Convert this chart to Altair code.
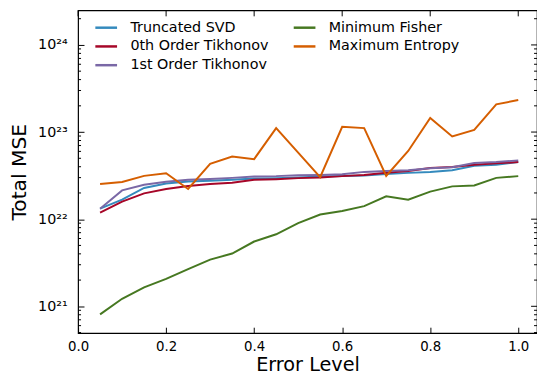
import altair as alt
import pandas as pd
import math

error_level = [0.05, 0.10, 0.15, 0.20, 0.25, 0.30, 0.35, 0.40, 0.45, 0.50,
               0.55, 0.60, 0.65, 0.70, 0.75, 0.80, 0.85, 0.90, 0.95, 1.00]

truncated_svd = [1.32e22, 1.68e22, 2.28e22, 2.57e22, 2.71e22, 2.76e22, 2.83e22, 2.93e22, 2.96e22, 3.01e22,
                 3.09e22, 3.14e22, 3.17e22, 3.31e22, 3.40e22, 3.49e22, 3.65e22, 4.11e22, 4.22e22, 4.52e22]
tikhonov_0 = [1.19e22, 1.59e22, 1.98e22, 2.22e22, 2.40e22, 2.53e22, 2.62e22, 2.83e22, 2.88e22, 2.96e22,
              3.01e22, 3.12e22, 3.22e22, 3.42e22, 3.58e22, 3.87e22, 3.97e22, 4.22e22, 4.38e22, 4.52e22]
tikhonov_1 = [1.32e22, 2.14e22, 2.48e22, 2.69e22, 2.83e22, 2.90e22, 2.98e22, 3.09e22, 3.12e22, 3.20e22,
              3.22e22, 3.28e22, 3.49e22, 3.58e22, 3.65e22, 3.84e22, 3.94e22, 4.41e22, 4.52e22, 4.73e22]
minimum_fisher = [8.08e20, 1.22e21, 1.65e21, 2.06e21, 2.67e21, 3.44e21, 4.03e21, 5.54e21, 6.71e21, 9.02e21,
                  1.13e22, 1.24e22, 1.41e22, 1.83e22, 1.67e22, 2.07e22, 2.38e22, 2.44e22, 2.98e22, 3.12e22]
maximum_entropy = [2.53e22, 2.67e22, 3.14e22, 3.37e22, 2.22e22, 4.33e22, 5.25e22, 4.89e22, 1.11e23, 5.82e22,
                   3.03e22, 1.15e23, 1.11e23, 3.14e22, 6.07e22, 1.45e23, 8.89e22, 1.06e23, 2.08e23, 2.33e23]

series_names = ["Truncated SVD", "0th Order Tikhonov", "1st Order Tikhonov",
                "Minimum Fisher", "Maximum Entropy"]
series_values = [truncated_svd, tikhonov_0, tikhonov_1, minimum_fisher, maximum_entropy]
series_colors = ["#348ABD", "#A60628", "#7A68A6", "#467821", "#D55E00"]

x_major = [0.0, 0.2, 0.4, 0.6, 0.8, 1.0]
y_major = [1e21, 1e22, 1e23, 1e24]
y_domain = [4.92e20, 2.49e24]
x_domain = [0.0, 1.0426]
y_minor = [m * 10.0 ** e for e in range(20, 25) for m in range(2, 10)
           if y_domain[0] < m * 10.0 ** e < y_domain[1]]

rows = []
for name, vals in zip(series_names, series_values):
    for x, v in zip(error_level, vals):
        rows.append({"x": x, "mse": v, "method": name})
df = pd.DataFrame(rows)

sup = {"0": "⁰", "1": "¹", "2": "²", "3": "³", "4": "⁴", "5": "⁵",
       "6": "⁶", "7": "⁷", "8": "⁸", "9": "⁹"}
expr = "''"
for v in y_major:
    e = str(round(math.log10(v)))
    expr = f"round(log(datum.value)/LN10) == {e} ? '10{''.join(sup[c] for c in e)}' : ({expr})"

FONT = "DejaVu Sans"
W, H = 465, 327
MAJ = 6
MIN = 3
xs = alt.Scale(domain=x_domain, nice=False, zero=False)
ys = alt.Scale(type="log", domain=y_domain, nice=False)

lines = alt.Chart(df).mark_line(strokeWidth=2).encode(
    x=alt.X("x:Q", scale=xs, axis=alt.Axis(
        values=x_major, format=".1f", title="Error Level", orient="bottom",
        offset=-MAJ, tickSize=MAJ, domain=False, grid=False, labelPadding=7,
        titlePadding=2, labelFontSize=13.5, titleFontSize=19.5, labelFont=FONT,
        titleFont=FONT, titleFontWeight="normal", tickColor="black", labelColor="black",
        titleColor="black", labelFlush=False)),
    y=alt.Y("mse:Q", scale=ys, axis=alt.Axis(
        values=y_major, labelExpr=expr, title="Total MSE", orient="left",
        offset=-MAJ, tickSize=MAJ, domain=False, grid=False, labelPadding=11,
        titlePadding=8, labelFontSize=14.5, titleFontSize=20.5, labelFont=FONT,
        titleFont=FONT, titleFontWeight="normal", tickColor="black", labelColor="black",
        titleColor="black", labelFlush=False)),
    color=alt.Color("method:N", scale=alt.Scale(domain=series_names, range=series_colors),
                    legend=alt.Legend(
                        title=None, orient="none", legendX=16, legendY=5, columns=2,
                        columnPadding=19, rowPadding=0, symbolType="stroke",
                        symbolSize=484, symbolStrokeWidth=2.5, labelFontSize=14.5,
                        labelFont=FONT, labelColor="black", labelOffset=12, padding=0)),
    detail="method:N",
)

ymaj_df = pd.DataFrame({"v": y_major})
ymin_df = pd.DataFrame({"v": y_minor})
xmaj_df = pd.DataFrame({"v": x_major})

def yticks(d, size, right):
    a, b = (W, W - size) if right else (0, size)
    return alt.Chart(d).mark_rule(color="black", strokeWidth=1).encode(
        y=alt.Y("v:Q"), x=alt.value(a), x2=alt.value(b))

top_ticks = alt.Chart(xmaj_df).mark_rule(color="black", strokeWidth=1).encode(
    x=alt.X("v:Q"), y=alt.value(0), y2=alt.value(MAJ))

chart = alt.layer(
    lines,
    yticks(ymin_df, MIN, False),
    yticks(ymin_df, MIN, True),
    yticks(ymaj_df, MAJ, True),
    top_ticks,
).properties(
    width=W, height=H,
    autosize=alt.AutoSizeParams(type="none"),
    padding={"left": 71, "top": 0, "right": 0, "bottom": 43},
).configure_view(stroke="black", strokeWidth=1.2)

chart.save("out.html", embed_options={"renderer": "svg", "actions": False})
